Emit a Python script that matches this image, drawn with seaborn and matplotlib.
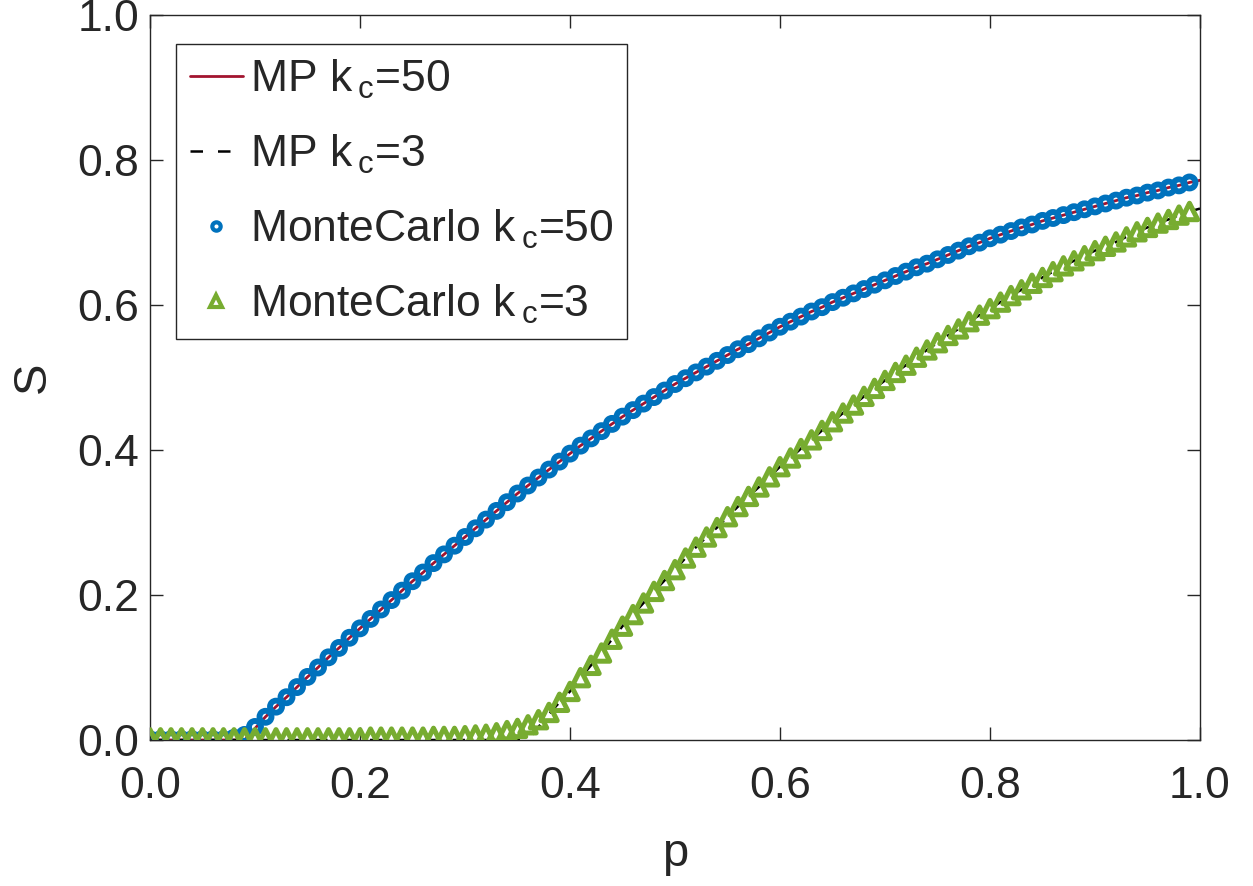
import numpy as np
import seaborn as sns
import matplotlib
matplotlib.use("Agg")
import matplotlib.pyplot as plt
from matplotlib.lines import Line2D

# occupation probability grid (Monte Carlo runs stop at 0.99, theory goes to 1.0)
p_mc = np.round(np.arange(0, 100) / 100, 2)
p_mp = np.round(np.arange(0, 101) / 100, 2)

# Monte Carlo, k_c = 50
mc_k50 = [
    0.001, 0.001, 0.001, 0.001, 0.001, 0.001, 0.001, 0.001, 0.003, 0.007,
    0.018, 0.032, 0.046, 0.059, 0.073, 0.087, 0.100, 0.114, 0.127, 0.141,
    0.154, 0.167, 0.180, 0.193, 0.206, 0.219, 0.231, 0.244, 0.256, 0.268,
    0.280, 0.292, 0.304, 0.316, 0.328, 0.340, 0.351, 0.362, 0.373, 0.384,
    0.395, 0.406, 0.416, 0.426, 0.436, 0.446, 0.455, 0.464, 0.473, 0.482,
    0.491, 0.499, 0.507, 0.515, 0.523, 0.531, 0.539, 0.546, 0.554, 0.562,
    0.570, 0.577, 0.584, 0.591, 0.597, 0.604, 0.610, 0.616, 0.622, 0.628,
    0.634, 0.640, 0.646, 0.652, 0.657, 0.663, 0.669, 0.675, 0.681, 0.686,
    0.692, 0.697, 0.702, 0.707, 0.711, 0.716, 0.720, 0.724, 0.728, 0.732,
    0.736, 0.740, 0.744, 0.748, 0.751, 0.755, 0.758, 0.762, 0.765, 0.769,
]

# message passing, k_c = 50
mp_k50 = [
    0.000, 0.000, 0.000, 0.000, 0.000, 0.000, 0.000, 0.000, 0.000, 0.000,
    0.016, 0.032, 0.046, 0.059, 0.073, 0.087, 0.100, 0.114, 0.127, 0.141,
    0.154, 0.167, 0.180, 0.193, 0.206, 0.219, 0.231, 0.244, 0.256, 0.268,
    0.280, 0.292, 0.304, 0.316, 0.328, 0.340, 0.351, 0.362, 0.373, 0.384,
    0.395, 0.406, 0.416, 0.426, 0.436, 0.446, 0.455, 0.464, 0.473, 0.482,
    0.491, 0.499, 0.507, 0.515, 0.523, 0.531, 0.539, 0.546, 0.554, 0.562,
    0.570, 0.577, 0.584, 0.591, 0.597, 0.604, 0.610, 0.616, 0.622, 0.628,
    0.634, 0.640, 0.646, 0.652, 0.657, 0.663, 0.669, 0.675, 0.681, 0.686,
    0.692, 0.697, 0.702, 0.707, 0.711, 0.716, 0.720, 0.724, 0.728, 0.732,
    0.736, 0.740, 0.744, 0.748, 0.751, 0.755, 0.758, 0.762, 0.765, 0.769,
    0.772,
]

# Monte Carlo, k_c = 3
mc_k3 = [
    0.003, 0.003, 0.003, 0.003, 0.003, 0.003, 0.003, 0.003, 0.003, 0.003,
    0.003, 0.003, 0.003, 0.003, 0.003, 0.003, 0.003, 0.003, 0.003, 0.003,
    0.003, 0.004, 0.004, 0.004, 0.004, 0.004, 0.004, 0.005, 0.005, 0.005,
    0.006, 0.007, 0.008, 0.010, 0.013, 0.016, 0.021, 0.028, 0.038, 0.052,
    0.067, 0.086, 0.103, 0.120, 0.139, 0.157, 0.173, 0.189, 0.205, 0.220,
    0.235, 0.251, 0.266, 0.280, 0.293, 0.308, 0.322, 0.336, 0.349, 0.363,
    0.377, 0.389, 0.402, 0.414, 0.427, 0.439, 0.451, 0.462, 0.474, 0.485,
    0.496, 0.507, 0.517, 0.528, 0.538, 0.548, 0.558, 0.567, 0.577, 0.586,
    0.595, 0.604, 0.613, 0.621, 0.630, 0.638, 0.646, 0.654, 0.661, 0.668,
    0.675, 0.681, 0.687, 0.694, 0.701, 0.707, 0.713, 0.718, 0.724, 0.729,
]

# message passing, k_c = 3
mp_k3 = [
    0.000, 0.000, 0.000, 0.000, 0.000, 0.000, 0.000, 0.000, 0.000, 0.000,
    0.000, 0.000, 0.000, 0.000, 0.000, 0.000, 0.000, 0.000, 0.000, 0.000,
    0.000, 0.000, 0.000, 0.000, 0.000, 0.000, 0.000, 0.000, 0.000, 0.000,
    0.000, 0.000, 0.000, 0.000, 0.000, 0.000, 0.000, 0.018, 0.036, 0.052,
    0.067, 0.086, 0.103, 0.120, 0.139, 0.157, 0.173, 0.189, 0.205, 0.220,
    0.235, 0.251, 0.266, 0.280, 0.293, 0.308, 0.322, 0.336, 0.349, 0.363,
    0.377, 0.389, 0.402, 0.414, 0.427, 0.439, 0.451, 0.462, 0.474, 0.485,
    0.496, 0.507, 0.517, 0.528, 0.538, 0.548, 0.558, 0.567, 0.577, 0.586,
    0.595, 0.604, 0.613, 0.621, 0.630, 0.638, 0.646, 0.654, 0.661, 0.668,
    0.675, 0.681, 0.687, 0.694, 0.701, 0.707, 0.713, 0.718, 0.724, 0.729,
    0.733,
]

labels = ["MP k$\\,_{c}$=50", "MP k$\\,_{c}$=3",
          "MonteCarlo k$\\,_{c}$=50", "MonteCarlo k$\\,_{c}$=3"]
ticks = [0.0, 0.2, 0.4, 0.6, 0.8, 1.0]
tick_labels = ["0.0", "0.2", "0.4", "0.6", "0.8", "1.0"]

red = "#A2142F"
blue = "#0072BD"
green = "#77AC30"
dark = "#262626"
dash = (0, (5, 6))

sns.set_style("ticks")
plt.rcParams["font.family"] = ["Liberation Sans", "DejaVu Sans"]
plt.rcParams["mathtext.fontset"] = "custom"
plt.rcParams["mathtext.rm"] = "Liberation Sans"
plt.rcParams["mathtext.it"] = "Liberation Sans"

fig = plt.figure(figsize=(12.53, 8.86), dpi=100)
ax = fig.add_axes([150 / 1253, 1 - 740 / 886, 1050 / 1253, 725 / 886])

# theory curves underneath the markers
sns.lineplot(x=p_mp, y=mp_k50, ax=ax, color=red, linewidth=2, zorder=2)
sns.lineplot(x=p_mp, y=mp_k3, ax=ax, color="black", linewidth=1.8,
             linestyle=dash, zorder=2)

# Monte Carlo points
sns.scatterplot(x=p_mc, y=mc_k50, ax=ax, marker="o", s=75,
                facecolors="none", edgecolor=blue, linewidth=4.2, zorder=3)
sns.scatterplot(x=p_mc, y=mc_k3, ax=ax, marker="^", s=140,
                facecolors="none", edgecolor=green, linewidth=3.6, zorder=4)

ax.set_xlim(0, 1)
ax.set_ylim(0, 1)
ax.set_xticks(ticks)
ax.set_xticklabels(tick_labels)
ax.set_yticks(ticks)
ax.set_yticklabels(tick_labels)
ax.tick_params(direction="in", length=9.5, width=1, top=True, right=True,
               labelsize=32, colors=dark)
ax.tick_params(axis="x", pad=19)
ax.tick_params(axis="y", pad=8)
for side in ["left", "right", "top", "bottom"]:
    ax.spines[side].set_visible(True)
    ax.spines[side].set_color(dark)
    ax.spines[side].set_linewidth(1)

ax.set_xlabel("p", fontsize=34, color=dark, labelpad=18)
ax.set_ylabel("S", fontsize=34, color=dark, labelpad=16)

handles = [
    Line2D([], [], color=red, linewidth=2),
    Line2D([], [], color="black", linewidth=1.8, linestyle=dash),
    Line2D([], [], linestyle="none", marker="o", markersize=6,
           markerfacecolor="none", markeredgecolor=blue, markeredgewidth=3),
    Line2D([], [], linestyle="none", marker="^", markersize=9,
           markerfacecolor="none", markeredgecolor=green, markeredgewidth=3),
]
leg = ax.legend(handles, labels, loc="upper left", bbox_to_anchor=(0.025, 0.96),
                borderaxespad=0, fontsize=32, frameon=True, fancybox=False,
                handlelength=1.2, handletextpad=0.15, labelspacing=0.72,
                borderpad=0.3)
leg.get_frame().set_edgecolor(dark)
leg.get_frame().set_linewidth(1)
leg.get_frame().set_alpha(1)

fig.savefig("out.png", dpi=100)
